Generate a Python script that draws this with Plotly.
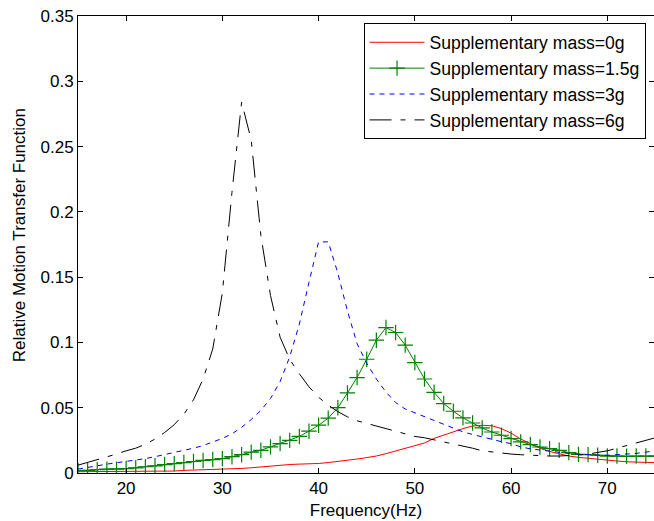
import plotly.graph_objects as go

freq = list(range(15, 76))

mass_0g = [0.0010, 0.0010, 0.0010, 0.0010, 0.0010, 0.0010, 0.0010, 0.0010, 0.0010, 0.0010,
           0.0015, 0.0020, 0.0022, 0.0024, 0.0025, 0.0027, 0.0030, 0.0035, 0.0040, 0.0047,
           0.0053, 0.0060, 0.0065, 0.0068, 0.0070, 0.0073, 0.0080, 0.0088, 0.0097, 0.0107,
           0.0118, 0.0130, 0.0148, 0.0168, 0.0188, 0.0205, 0.0230, 0.0265, 0.0290, 0.0320,
           0.0340, 0.0360, 0.0365, 0.0362, 0.0340, 0.0305, 0.0260, 0.0225, 0.0190, 0.0165,
           0.0145, 0.0130, 0.0120, 0.0112, 0.0105, 0.0098, 0.0092, 0.0086, 0.0082, 0.0080,
           0.0079]

mass_1_5g = [0.0018, 0.0020, 0.0025, 0.0030, 0.0030, 0.0034, 0.0040, 0.0048, 0.0055, 0.0064,
             0.0072, 0.0080, 0.0088, 0.0096, 0.0103, 0.0110, 0.0125, 0.0140, 0.0160, 0.0174,
             0.0200, 0.0225, 0.0250, 0.0280, 0.0320, 0.0366, 0.0420, 0.0500, 0.0613, 0.0731,
             0.0871, 0.1017, 0.1114, 0.1076, 0.0979, 0.0846, 0.0720, 0.0618, 0.0532, 0.0473,
             0.0422, 0.0383, 0.0345, 0.0314, 0.0289, 0.0264, 0.0238, 0.0218, 0.0199, 0.0187,
             0.0174, 0.0156, 0.0143, 0.0141, 0.0136, 0.0130, 0.0130, 0.0128, 0.0130, 0.0130,
             0.0130]

mass_3g = [0.0030, 0.0040, 0.0055, 0.0068, 0.0078, 0.0085, 0.0098, 0.0110, 0.0125, 0.0140,
           0.0155, 0.0172, 0.0190, 0.0210, 0.0235, 0.0265, 0.0300, 0.0350, 0.0410, 0.0480,
           0.0570, 0.0700, 0.0890, 0.1140, 0.1460, 0.1770, 0.1770, 0.1530, 0.1240, 0.0990,
           0.0840, 0.0720, 0.0620, 0.0540, 0.0490, 0.0460, 0.0430, 0.0400, 0.0370, 0.0340,
           0.0315, 0.0295, 0.0275, 0.0260, 0.0240, 0.0225, 0.0200, 0.0185, 0.0175, 0.0165,
           0.0155, 0.0150, 0.0145, 0.0140, 0.0137, 0.0136, 0.0140, 0.0143, 0.0150, 0.0160,
           0.0170]

mass_6g = [0.0060, 0.0080, 0.0100, 0.0120, 0.0145, 0.0170, 0.0190, 0.0220, 0.0260, 0.0310,
           0.0370, 0.0450, 0.0560, 0.0720, 0.0950, 0.1380, 0.2150, 0.2840, 0.2550, 0.1820,
           0.1360, 0.1040, 0.0870, 0.0760, 0.0660, 0.0580, 0.0520, 0.0470, 0.0430, 0.0400,
           0.0380, 0.0360, 0.0340, 0.0320, 0.0300, 0.0280, 0.0270, 0.0255, 0.0240, 0.0220,
           0.0210, 0.0190, 0.0170, 0.0160, 0.0150, 0.0145, 0.0140, 0.0135, 0.0130, 0.0130,
           0.0130, 0.0132, 0.0138, 0.0145, 0.0155, 0.0170, 0.0190, 0.0210, 0.0230, 0.0250,
           0.0270]

names = ["Supplementary mass=0g", "Supplementary mass=1.5g",
         "Supplementary mass=3g", "Supplementary mass=6g"]

FONT = "Liberation Sans, Arial, sans-serif"

fig = go.Figure()
fig.add_trace(go.Scatter(x=freq, y=mass_0g, mode="lines", name=names[0],
                         line=dict(color="#ff0000", width=1)))
fig.add_trace(go.Scatter(x=freq, y=mass_1_5g, mode="lines+markers", name=names[1],
                         line=dict(color="#008000", width=1),
                         marker=dict(symbol="cross-thin", size=11,
                                     line=dict(color="#008000", width=1.2))))
fig.add_trace(go.Scatter(x=freq, y=mass_3g, mode="lines", name=names[2],
                         line=dict(color="#0000ff", width=1, dash="5px,5px")))
fig.add_trace(go.Scatter(x=freq, y=mass_6g, mode="lines", name=names[3],
                         line=dict(color="#000000", width=1, dash="22px,9px,5px,9px")))

axis_common = dict(showline=True, linecolor="black", linewidth=1, mirror="allticks",
                   ticks="inside", ticklen=5, tickcolor="black", tickwidth=1,
                   showgrid=False, zeroline=False,
                   tickfont=dict(family=FONT, size=17, color="black"))

fig.update_xaxes(range=[15, 74.85], tick0=0, dtick=10,
                 title=dict(text="Frequency(Hz)", font=dict(family=FONT, size=17, color="black"),
                            standoff=6),
                 **axis_common)
fig.update_yaxes(range=[0, 0.35], tick0=0, dtick=0.05, **axis_common)

fig.add_annotation(text="Relative Motion Transfer Function", textangle=-90,
                   xref="paper", yref="paper", x=-0.1023, y=0.5205,
                   xanchor="center", yanchor="middle", showarrow=False,
                   font=dict(family=FONT, size=17, color="black"))

fig.update_layout(
    width=654, height=521,
    margin=dict(l=77.5, r=0, t=16, b=48.3),
    paper_bgcolor="white", plot_bgcolor="white",
    font=dict(family=FONT, size=17, color="black"),
    showlegend=True,
    legend=dict(x=0.4957, y=0.984, xanchor="left", yanchor="top",
                bgcolor="white", bordercolor="black", borderwidth=1,
                font=dict(family=FONT, size=17.6, color="black"),
                itemwidth=55, tracegroupgap=0),
)

fig.write_html("out.html")
